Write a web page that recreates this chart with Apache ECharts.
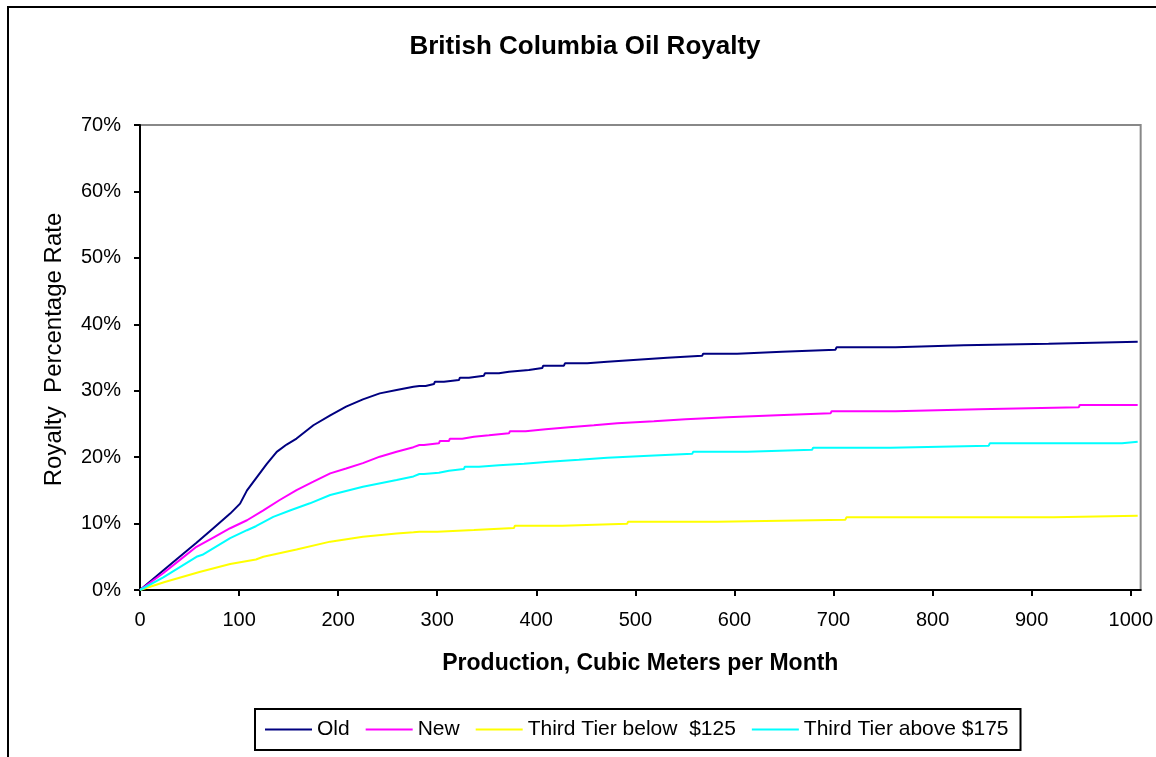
<!DOCTYPE html>
<html>
<head>
<meta charset="utf-8">
<script src="https://cdn.jsdelivr.net/npm/echarts@6/dist/echarts.min.js"></script>
<style>
  html, body { margin: 0; padding: 0; background: #fff; }
  #chart { width: 1156px; height: 757px; }
</style>
</head>
<body>
<div id="chart"></div>
<script>
// ---- data (x = cubic meters per month, y = royalty %) ----
const chartTitle = 'British Columbia Oil Royalty';
const xAxisTitle = 'Production, Cubic Meters per Month';
const yAxisTitle = 'Royalty  Percentage Rate';
const seriesNames = ['Old', 'New', 'Third Tier below  $125', 'Third Tier above $175'];
const xTicks = [0, 100, 200, 300, 400, 500, 600, 700, 800, 900, 1000];
const yTicks = [0, 10, 20, 30, 40, 50, 60, 70];
const xEnd = 1007;

// rising part of each curve
const oldCurve = [[0,0],[12,1.5],[24,3.0],[40,5.0],[57,7.1],[74,9.3],[91,11.5],[101,13.0],[108,15.0],[118,17.0],[128,19.0],[138,20.8],[148,21.9],[158,22.8],[175,24.8],[192,26.3],[208,27.6],[225,28.7],[242,29.6],[259,30.1],[276,30.6]];
const newCurve = [[0,0],[24,2.6],[40,4.5],[57,6.5],[74,7.9],[91,9.3],[108,10.5],[124.5,12.0],[141,13.55],[158,15.05],[175,16.3],[192,17.56],[208,18.3],[225,19.1],[242,20.07],[259,20.8],[276,21.5]];
const lowCurve = [[0,0],[25,1.2],[60,2.7],[91,3.9],[117,4.6],[124.5,5.0],[158,6.1],[192,7.28],[225,8.0],[259,8.5],[276,8.7]];
const highCurve = [[0,0],[23.5,1.9],[57,5.0],[63,5.3],[91,7.8],[108,9.0],[117,9.6],[134.5,11.0],[152,12.0],[171.5,13.05],[192,14.3],[225,15.55],[259,16.56],[276,17.1]];

// flat part: [x where level starts, level %]
const oldSteps = [[282,30.71],[289.3,31.01],[297.7,31.36],[307.8,31.61],[322.9,31.96],[333,32.26],[348.1,32.62],[363.3,32.87],[373.4,33.12],[393.5,33.42],[407,33.77],[428.9,34.12],[452.4,34.37],[472.6,34.67],[502.8,34.97],[533.1,35.25],[568.4,35.58],[603.7,35.88],[649,36.18],[703,36.53],[763.6,36.83],[832.5,37.08],[918,37.38]];
const newSteps = [[282,21.83],[287.6,22.08],[302.7,22.43],[312.8,22.78],[326.2,23.08],[338,23.28],[353.2,23.58],[373.4,23.89],[390.2,24.19],[410.4,24.49],[433.9,24.79],[459.1,25.09],[482.7,25.39],[519.7,25.69],[551.6,25.99],[593.7,26.29],[644.1,26.59],[698,26.90],[763.6,27.20],[847.6,27.50],[948.5,27.85]];
const lowSteps = [[282,8.78],[301,9.03],[338,9.33],[378.4,9.68],[427.2,9.98],[492.7,10.29],[583.6,10.59],[713,10.94],[923.3,11.19]];
const highSteps = [[282,17.46],[287.6,17.66],[302.7,17.96],[312.8,18.21],[327.9,18.57],[343.1,18.77],[363.3,19.02],[388.5,19.32],[413.7,19.62],[444,19.92],[472.6,20.22],[514.6,20.50],[558.4,20.82],[613.8,21.12],[679.4,21.43],[758.5,21.73],[857.7,22.08],[992.2,22.33]];

const colors = ['#000080', '#FF00FF', '#FFFF00', '#00FFFF'];

function build(curve, steps) {
  const pts = curve.map(p => [p[0], p[1]]);
  steps.forEach((s, i) => {
    const next = i + 1 < steps.length ? steps[i + 1][0] - 1 : xEnd;
    pts.push([s[0], s[1]]);
    pts.push([next, s[1]]);
  });
  return pts;
}

const allData = [
  build(oldCurve, oldSteps),
  build(newCurve, newSteps),
  build(lowCurve, lowSteps),
  build(highCurve, highSteps)
];

const FONT = '"Liberation Sans", Arial, sans-serif';
const chart = echarts.init(document.getElementById('chart'), null, { renderer: 'canvas' });

chart.setOption({
  backgroundColor: '#ffffff',
  animation: false,
  title: {
    text: chartTitle,
    left: 585,
    top: 34,
    padding: 0,
    textAlign: 'center',
    textStyle: { fontFamily: FONT, fontSize: 26, fontWeight: 'bold', color: '#000' }
  },
  graphic: [{
    type: 'rect',
    shape: { x: 8, y: 7, width: 1200, height: 800 },
    style: { fill: 'none', stroke: '#000', lineWidth: 2 },
    silent: true, z: 100
  }],
  legend: {
    left: 255,
    top: 709,
    orient: 'horizontal',
    icon: 'rect',
    itemWidth: 47,
    itemHeight: 2,
    itemGap: 16,
    padding: [10, 12, 10, 10],
    borderColor: '#000',
    borderWidth: 2,
    textStyle: { fontFamily: FONT, fontSize: 21, color: '#000' },
    data: seriesNames
  },
  grid: {
    left: 140, top: 125, right: 14, bottom: 167,
    show: true, borderColor: '#888888', borderWidth: 2, backgroundColor: '#fff'
  },
  xAxis: {
    type: 'value',
    min: 0, max: 1010, interval: 100,
    name: xAxisTitle,
    nameLocation: 'middle',
    nameGap: 62,
    nameTextStyle: { fontFamily: FONT, fontSize: 23, fontWeight: 'bold', color: '#000' },
    axisLine: { show: true, onZero: false, lineStyle: { color: '#000', width: 2 } },
    axisTick: { show: true, inside: false, length: 6, lineStyle: { color: '#000', width: 2 }, customValues: xTicks },
    axisLabel: { margin: 20, fontFamily: FONT, fontSize: 20, color: '#000', customValues: xTicks, formatter: v => String(v) }
    ,
    splitLine: { show: false }
  },
  yAxis: {
    type: 'value',
    min: 0, max: 70, interval: 10,
    name: yAxisTitle,
    nameLocation: 'middle',
    nameGap: 74,
    nameRotate: 90,
    nameTextStyle: { fontFamily: FONT, fontSize: 24, color: '#000', padding: [0, 0, 0, 16] },
    axisLine: { show: true, onZero: false, lineStyle: { color: '#000', width: 2 } },
    axisTick: { show: true, inside: false, length: 6, lineStyle: { color: '#000', width: 2 } },
    axisLabel: { margin: 19, fontFamily: FONT, fontSize: 20, color: '#000', formatter: v => v + '%' },
    splitLine: { show: false }
  },
  series: seriesNames.map((n, i) => ({
    name: n,
    type: 'line',
    data: allData[i],
    symbol: 'none',
    showSymbol: false,
    smooth: false,
    clip: true,
    lineStyle: { color: colors[i], width: 2 },
    itemStyle: { color: colors[i] }
  }))
});
</script>
</body>
</html>
